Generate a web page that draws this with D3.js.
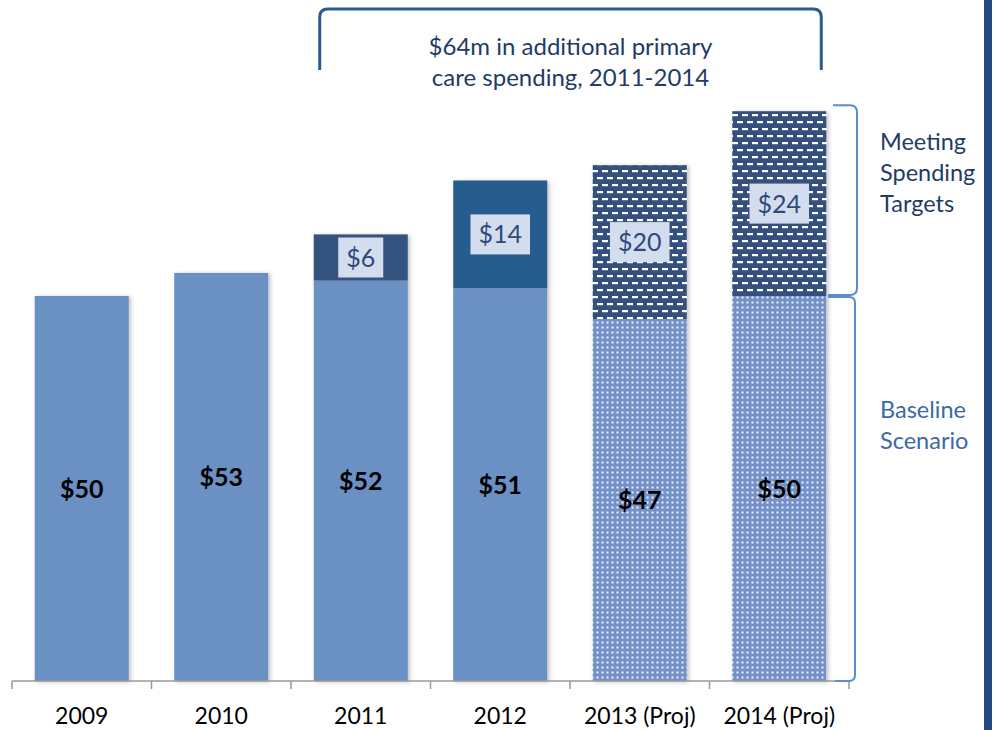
<!DOCTYPE html>
<meta charset="utf-8">
<style>
  body { margin: 0; background: #fff; }
  svg { font-family: Lato, "Noto Sans", sans-serif; }
  .axis path { stroke: #999; stroke-width: 1.5; }
  .axis text { font-size: 23px; fill: #000; }
</style>
<body>
<script src="https://d3js.org/d3.v7.min.js"></script>
<script>

var years = ["2009", "2010", "2011", "2012", "2013 (Proj)", "2014 (Proj)"];
var baseline = [50, 53, 52, 51, 47, 50];
var additional = [0, 0, 6, 14, 20, 24];
var projected = [false, false, false, false, true, true];
var bracketLines = ["$64m in additional primary", "care spending, 2011-2014"];
var sideLabels = [["Meeting", "Spending", "Targets"], ["Baseline", "Scenario"]];

var width = 993, height = 730;

var svg = d3.select("body").append("svg")
    .attr("width", width)
    .attr("height", height);

var defs = svg.append("defs");

// dark dashed pattern for projected spending-target segments
var pd = defs.append("pattern")
    .attr("id", "dashes")
    .attr("patternUnits", "userSpaceOnUse")
    .attr("width", 10).attr("height", 14);
pd.append("rect").attr("width", 10).attr("height", 14).attr("fill", "#34507f");
pd.append("rect").attr("x", 2).attr("y", 2).attr("width", 6).attr("height", 2.2).attr("fill", "#fff");
pd.append("rect").attr("x", 7).attr("y", 9).attr("width", 6).attr("height", 2.2).attr("fill", "#fff");
pd.append("rect").attr("x", -3).attr("y", 9).attr("width", 6).attr("height", 2.2).attr("fill", "#fff");

// light dotted pattern for projected baseline
var pl = defs.append("pattern")
    .attr("id", "dots")
    .attr("patternUnits", "userSpaceOnUse")
    .attr("width", 5).attr("height", 5);
pl.append("rect").attr("width", 5).attr("height", 5).attr("fill", "#7391c8");
pl.append("rect").attr("x", 1.5).attr("y", 1.5).attr("width", 2).attr("height", 2).attr("fill", "#eef2fa");

var shadow = defs.append("filter").attr("id", "shadow")
    .attr("x", "-10%").attr("y", "-10%").attr("width", "130%").attr("height", "130%");
shadow.append("feDropShadow")
    .attr("dx", 2).attr("dy", 1).attr("stdDeviation", 2)
    .attr("flood-color", "#000").attr("flood-opacity", 0.25);

var x = d3.scaleBand()
    .domain(years)
    .range([12, 849])
    .paddingInner(0.326)
    .paddingOuter(0.163);

var y = d3.scaleLinear()
    .domain([0, 80])
    .range([681, 681 - 80 * 7.7]);

var rows = years.map(function(d, i) {
    return {year: d, base: baseline[i], add: additional[i], proj: projected[i], i: i};
});

var topColors = ["#34527f", "#34527f", "#34527f", "#265c8e", "url(#dashes)", "url(#dashes)"];

var bars = svg.append("g").selectAll("g")
    .data(rows)
    .enter().append("g")
    .attr("filter", "url(#shadow)");

bars.append("rect")
    .attr("x", function(d) { return x(d.year); })
    .attr("width", x.bandwidth())
    .attr("y", function(d) { return y(d.base); })
    .attr("height", function(d) { return y(0) - y(d.base); })
    .attr("fill", function(d) { return d.proj ? "url(#dots)" : "#6b90c4"; });

bars.filter(function(d) { return d.add > 0; })
    .append("rect")
    .attr("x", function(d) { return x(d.year); })
    .attr("width", x.bandwidth())
    .attr("y", function(d) { return y(d.base + d.add); })
    .attr("height", function(d) { return y(d.base) - y(d.base + d.add); })
    .attr("fill", function(d) { return topColors[d.i]; });

// baseline value labels
svg.append("g").selectAll("text")
    .data(rows)
    .enter().append("text")
    .attr("x", function(d) { return x(d.year) + x.bandwidth() / 2; })
    .attr("y", function(d) { return (y(0) + y(d.base)) / 2; })
    .attr("dy", "0.36em")
    .attr("text-anchor", "middle")
    .style("font-size", "25px")
    .style("font-weight", "bold")
    .attr("fill", "#000")
    .text(function(d) { return "$" + d.base; });

// additional spending labels in boxes
var addLab = svg.append("g").selectAll("g")
    .data(rows.filter(function(d) { return d.add > 0; }))
    .enter().append("g")
    .attr("transform", function(d) {
        return "translate(" + (x(d.year) + x.bandwidth() / 2) + "," + ((y(d.base) + y(d.base + d.add)) / 2) + ")";
    });

addLab.append("text")
    .attr("text-anchor", "middle")
    .attr("dy", "0.36em")
    .style("font-size", "25px")
    .attr("fill", "#2d4a7c")
    .text(function(d) { return "$" + d.add; })
    .each(function() {
        var b = this.getBBox();
        d3.select(this.parentNode).insert("rect", "text")
            .attr("x", b.x - 8).attr("y", -20)
            .attr("width", b.width + 16).attr("height", 40)
            .attr("fill", "#d4ddee");
    });

// axis
var axis = svg.append("g")
    .attr("class", "axis")
    .attr("transform", "translate(0," + y(0) + ")")
    .call(d3.axisBottom(x).tickSize(0).tickSizeOuter(0))
    .attr("font-family", null)
    .attr("font-size", null);
axis.selectAll("text").attr("y", 43).attr("dy", null);

var gap = x.step() * x.paddingInner() / 2;
var bounds = years.map(function(d) { return x(d) - gap; }).concat([x.range()[1]]);
axis.selectAll(".bound")
    .data(bounds)
    .enter().append("line")
    .attr("class", "bound")
    .attr("x1", function(d) { return d; })
    .attr("x2", function(d) { return d; })
    .attr("y1", 0).attr("y2", 8)
    .attr("stroke", "#999")
    .attr("stroke-width", 1.5);
axis.select(".domain").attr("d", "M" + bounds[0] + ",0H" + bounds[bounds.length - 1]);

// top bracket for 2011-2014 additional spending
var bx0 = x("2011") + 6, bx1 = x("2014 (Proj)") + x.bandwidth() - 5;
svg.append("path")
    .attr("d", "M" + bx0 + ",70V17Q" + bx0 + ",9 " + (bx0 + 8) + ",9H" + (bx1 - 8) + "Q" + bx1 + ",9 " + bx1 + ",17V70")
    .attr("fill", "none")
    .attr("stroke", "#2c5b8e")
    .attr("stroke-width", 3);

svg.append("g").selectAll("text")
    .data(bracketLines)
    .enter().append("text")
    .attr("x", (bx0 + bx1) / 2)
    .attr("y", function(d, i) { return 55 + i * 31; })
    .attr("text-anchor", "middle")
    .style("font-size", "24px")
    .attr("fill", "#1f3b66")
    .text(function(d) { return d; });

// right-hand brackets
var rTop = y(baseline[5] + additional[5]) - 6, rMid = y(baseline[5]), rBot = y(0);
svg.append("path")
    .attr("d", "M833," + rTop + "H850Q857," + rTop + " 857," + (rTop + 7) + "V" + (rMid - 8) + "Q857," + (rMid - 1) + " 850," + (rMid - 1) + "H828")
    .attr("fill", "none").attr("stroke", "#5b8dca").attr("stroke-width", 2);
svg.append("path")
    .attr("d", "M828," + (rMid + 1) + "H849Q855," + (rMid + 1) + " 855," + (rMid + 7) + "V" + (rBot - 6) + "Q855," + rBot + " 849," + rBot + "H835")
    .attr("fill", "none").attr("stroke", "#5b8dca").attr("stroke-width", 2);

svg.append("g").selectAll("text")
    .data(sideLabels[0])
    .enter().append("text")
    .attr("x", 880)
    .attr("y", function(d, i) { return 150 + i * 31; })
    .style("font-size", "23.5px")
    .attr("fill", "#1f3b66")
    .text(function(d) { return d; });

svg.append("g").selectAll("text")
    .data(sideLabels[1])
    .enter().append("text")
    .attr("x", 880)
    .attr("y", function(d, i) { return 418 + i * 31; })
    .style("font-size", "23.5px")
    .attr("fill", "#3b6aa6")
    .text(function(d) { return d; });

// slide edge bar
svg.append("rect")
    .attr("x", 984).attr("y", 0)
    .attr("width", 8).attr("height", height)
    .attr("fill", "#214a80");

</script>
